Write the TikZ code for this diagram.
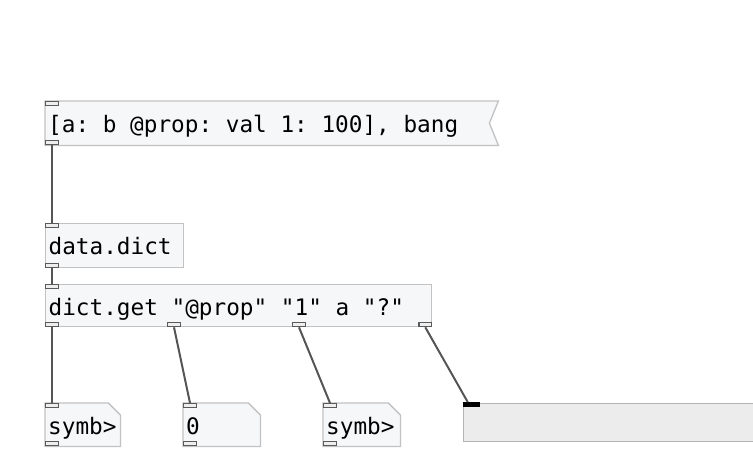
\documentclass[tikz,border=0pt]{standalone}
\usepackage{fontspec}
\setmonofont{DejaVu Sans Mono}
\usetikzlibrary{positioning,calc,backgrounds}
\definecolor{boxfill}{HTML}{F6F7F9}
\definecolor{boxline}{HTML}{C2C2C2}
\definecolor{portline}{HTML}{5A5A5A}
\definecolor{portfill}{HTML}{EEEEEE}
\definecolor{cordcol}{HTML}{555555}
\definecolor{slidfill}{HTML}{ECECEC}
\definecolor{slidline}{HTML}{B4B4B4}
\newcommand\pdfnt{\ttfamily\fontsize{22.7}{26}\selectfont\frenchspacing}
\newcommand\pdspace{\spaceskip 13.67pt\relax\xspaceskip 13.67pt\relax}
\tikzset{
  pdbox/.style={anchor=north west,inner xsep=3pt,inner ysep=0pt,text height=31pt,
    text depth=13pt,align=left,font=\pdfnt,execute at begin node=\pdspace},
  objbox/.style={pdbox,draw=boxline,fill=boxfill,line width=1.3pt},
  outline/.style={draw=boxline,fill=boxfill,line width=1.3pt,line join=miter},
  port/.style={draw=portline,fill=portfill,line width=1.4pt,minimum width=12.6pt,
    minimum height=4pt,inner sep=0pt},
  cord/.style={draw=cordcol,line width=2pt},
}
\begin{document}
\begin{tikzpicture}[x=1pt,y=-1pt]
  \clip (0,0) rectangle (753,475);
  % boxes
  \node[pdbox,text width=447pt] (msg) at (45,101) {[a: b @prop: val 1: 100], bang};
  \node[objbox,text width=132pt] (dict) at (45,223) {data.dict};
  \node[objbox,text width=380pt,text depth=11pt] (get) at (45,284) {dict.get "@prop" "1" a "?"};
  \node[pdbox,text width=69pt,text depth=12pt] (atomA) at (45,403) {symb>};
  \node[pdbox,text width=71pt,text depth=12pt] (atomB) at (183,403) {0};
  \node[pdbox,text width=71pt,text depth=12pt] (atomC) at (323,403) {symb>};
  \node[draw=slidline,fill=slidfill,line width=1.3pt,anchor=north west,minimum width=300pt,
    minimum height=38pt,inner sep=0pt] (slid) at (463,403) {};
  \begin{scope}[on background layer]
    \draw[outline] (msg.north west) -- (msg.north east) -- ($(msg.east)+(-9,0)$)
      -- (msg.south east) -- (msg.south west) -- cycle;
    \foreach \a in {atomA,atomB,atomC}
      \draw[outline] (\a.north west) -- ($(\a.north east)+(-12,0)$) -- ($(\a.north east)+(0,12)$)
        -- (\a.south east) -- (\a.south west) -- cycle;
  \end{scope}
  % inlets and outlets
  \node[port,anchor=north west] (msgin) at (msg.north west) {};
  \node[port,anchor=south west] (msgout) at (msg.south west) {};
  \node[port,anchor=north west] (dictin) at (dict.north west) {};
  \node[port,anchor=south west] (dictout) at (dict.south west) {};
  \node[port,anchor=north west] (getin) at (get.north west) {};
  \node[port,anchor=south west] (getout1) at (get.south west) {};
  \node[port,anchor=south west] (getout2) at ($(get.south west)+(122,0)$) {};
  \node[port,anchor=south west] (getout3) at ($(get.south west)+(247,0)$) {};
  \node[port,anchor=south east] (getout4) at (get.south east) {};
  \foreach \a in {atomA,atomB,atomC}{
    \node[port,anchor=north west] (\a-in) at (\a.north west) {};
    \node[port,anchor=south west] (\a-out) at (\a.south west) {};
  }
  \node[port,fill=black,draw=black,minimum width=16pt,anchor=north west] (slidin)
    at ($(slid.north west)+(0,-1)$) {};
  % cords
  \draw[cord] (msgout.south) -- (dictin.north);
  \draw[cord] (dictout.south) -- (getin.north);
  \draw[cord] (getout1.south) -- (atomA-in.north);
  \draw[cord] (getout2.south) -- (atomB-in.north);
  \draw[cord] (getout3.south) -- (atomC-in.north);
  \draw[cord] (getout4.south) -- ($(slidin.north)+(-4,0)$);
\end{tikzpicture}
\end{document}
